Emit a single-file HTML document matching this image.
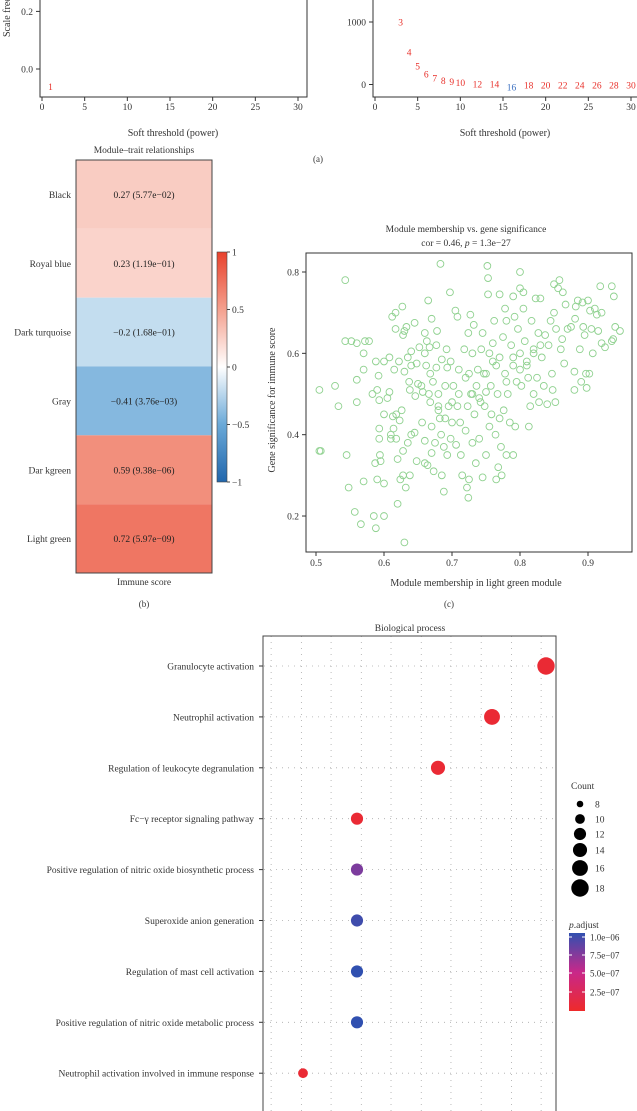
<!DOCTYPE html>
<html><head><meta charset="utf-8"><style>
html,body{margin:0;padding:0;background:#fff;}
svg{display:block;font-family:"Liberation Serif",serif;}
</style></head><body>
<svg id="fig" width="637" height="1111" viewBox="0 0 637 1111" xmlns="http://www.w3.org/2000/svg">
<defs>
<linearGradient id="cbar" x1="0" y1="1" x2="0" y2="0">
<stop offset="0" stop-color="#2166ac"/><stop offset="0.25" stop-color="#6aa9d8"/><stop offset="0.5" stop-color="#ffffff"/><stop offset="0.75" stop-color="#f4a08e"/><stop offset="1" stop-color="#e8412c"/>
</linearGradient>
<linearGradient id="pbar" x1="0" y1="1" x2="0" y2="0">
<stop offset="0" stop-color="#ee2a2a"/><stop offset="0.5" stop-color="#c8288a"/><stop offset="1" stop-color="#3050b0"/>
</linearGradient>
</defs>
<g id="panelA"></g>
<g id="panelB"></g>
<g id="panelC"></g>
<g id="panelD"></g>
</svg>
<script>
// ---- Panel A data ----
const powersLeft = [1];
const fitLeft = [-0.06];
const powersRight = [3,4,5,6,7,8,9,10,12,14,16,18,20,22,24,26,28,30];
const connRight = [1000,520,300,170,105,65,45,35,12,8,-40,-10,-10,-10,-10,-10,-10,-10];
const xTicksA = [0,5,10,15,20,25,30];
// ---- Panel B data ----
const modules = ["Black","Royal blue","Dark turquoise","Gray","Dar kgreen","Light green"];
const corrs = [0.27,0.23,-0.2,-0.41,0.59,0.72];
const pvals = ["5.77e\u221202","1.19e\u221201","1.68e\u221201","3.76e\u221203","9.38e\u221206","5.97e\u221209"];
const cbarTicks = [1,0.5,0,-0.5,-1];
// ---- Panel C data ----
const mmX = [0.505,0.505,0.507,0.528,0.533,0.543,0.543,0.545,0.548,0.552,0.557,0.56,0.56,0.56,0.566,0.57,0.57,0.57,0.572,0.578,0.583,0.585,0.587,0.588,0.588,0.59,0.59,0.592,0.593,0.593,0.593,0.594,0.595,0.6,0.6,0.6,0.6,0.605,0.608,0.608,0.61,0.61,0.612,0.613,0.614,0.615,0.617,0.617,0.618,0.618,0.62,0.62,0.622,0.623,0.624,0.626,0.627,0.628,0.628,0.628,0.63,0.63,0.63,0.632,0.633,0.635,0.635,0.637,0.638,0.638,0.64,0.64,0.64,0.645,0.645,0.646,0.648,0.648,0.65,0.652,0.655,0.656,0.657,0.66,0.66,0.66,0.662,0.663,0.664,0.665,0.666,0.667,0.668,0.668,0.67,0.67,0.67,0.672,0.673,0.675,0.677,0.677,0.678,0.68,0.68,0.682,0.683,0.684,0.685,0.685,0.688,0.688,0.69,0.69,0.692,0.693,0.693,0.695,0.697,0.698,0.698,0.7,0.702,0.705,0.706,0.708,0.708,0.71,0.712,0.713,0.715,0.718,0.72,0.722,0.723,0.724,0.724,0.725,0.725,0.727,0.728,0.73,0.73,0.732,0.733,0.735,0.736,0.738,0.74,0.742,0.743,0.745,0.745,0.747,0.748,0.75,0.75,0.752,0.753,0.753,0.755,0.755,0.757,0.758,0.76,0.762,0.764,0.765,0.765,0.767,0.768,0.77,0.77,0.77,0.772,0.773,0.775,0.776,0.778,0.778,0.78,0.78,0.782,0.785,0.787,0.79,0.79,0.79,0.792,0.793,0.795,0.797,0.8,0.8,0.8,0.802,0.805,0.805,0.807,0.81,0.812,0.813,0.815,0.817,0.82,0.82,0.823,0.825,0.827,0.828,0.83,0.832,0.835,0.837,0.84,0.842,0.845,0.847,0.848,0.85,0.85,0.852,0.853,0.856,0.858,0.86,0.862,0.863,0.865,0.867,0.87,0.875,0.88,0.88,0.881,0.882,0.885,0.888,0.89,0.892,0.893,0.895,0.897,0.898,0.9,0.902,0.903,0.905,0.907,0.91,0.913,0.915,0.918,0.92,0.92,0.925,0.935,0.935,0.937,0.938,0.94,0.947,0.71,0.72,0.74,0.76,0.78,0.8,0.82,0.7,0.73,0.75,0.79,0.81,0.83,0.68,0.66];
const gsY = [0.51,0.36,0.36,0.52,0.47,0.78,0.63,0.35,0.27,0.63,0.21,0.625,0.535,0.48,0.18,0.285,0.56,0.6,0.63,0.63,0.5,0.2,0.33,0.58,0.17,0.51,0.29,0.545,0.485,0.415,0.39,0.35,0.335,0.28,0.2,0.45,0.58,0.49,0.59,0.505,0.4,0.39,0.69,0.445,0.415,0.56,0.7,0.66,0.45,0.39,0.34,0.23,0.58,0.435,0.29,0.46,0.715,0.3,0.645,0.36,0.555,0.655,0.135,0.27,0.665,0.38,0.59,0.53,0.51,0.3,0.4,0.57,0.605,0.405,0.675,0.495,0.575,0.335,0.525,0.615,0.52,0.43,0.505,0.65,0.33,0.385,0.57,0.63,0.325,0.73,0.5,0.615,0.55,0.48,0.685,0.42,0.355,0.53,0.31,0.38,0.565,0.62,0.655,0.5,0.47,0.44,0.82,0.4,0.3,0.585,0.26,0.37,0.52,0.44,0.61,0.35,0.565,0.47,0.75,0.39,0.58,0.43,0.52,0.705,0.375,0.69,0.47,0.5,0.43,0.35,0.3,0.61,0.41,0.27,0.47,0.65,0.245,0.55,0.29,0.695,0.5,0.38,0.6,0.67,0.45,0.33,0.52,0.56,0.39,0.48,0.61,0.295,0.65,0.55,0.47,0.505,0.35,0.815,0.785,0.745,0.6,0.42,0.52,0.45,0.625,0.68,0.4,0.57,0.29,0.5,0.32,0.745,0.44,0.59,0.37,0.3,0.64,0.46,0.71,0.55,0.35,0.68,0.5,0.43,0.62,0.74,0.57,0.35,0.69,0.42,0.53,0.66,0.8,0.76,0.6,0.52,0.71,0.75,0.63,0.58,0.54,0.42,0.47,0.68,0.61,0.5,0.735,0.54,0.65,0.48,0.735,0.59,0.52,0.645,0.475,0.62,0.68,0.55,0.51,0.7,0.77,0.48,0.66,0.76,0.78,0.61,0.635,0.75,0.575,0.72,0.66,0.665,0.555,0.51,0.685,0.715,0.73,0.61,0.53,0.725,0.665,0.645,0.55,0.515,0.73,0.55,0.705,0.66,0.6,0.71,0.695,0.655,0.765,0.625,0.7,0.615,0.765,0.63,0.635,0.74,0.665,0.655,0.56,0.54,0.49,0.58,0.53,0.56,0.6,0.48,0.5,0.55,0.59,0.57,0.62,0.46,0.6];
const xTicksC = [0.5,0.6,0.7,0.8,0.9];
const yTicksC = [0.2,0.4,0.6,0.8];
// ---- Panel D data ----
const terms = ["Granulocyte activation","Neutrophil activation","Regulation of leukocyte degranulation","Fc\u2212\u03b3 receptor signaling pathway","Positive regulation of nitric oxide biosynthetic process","Superoxide anion generation","Regulation of mast cell activation","Positive regulation of nitric oxide metabolic process","Neutrophil activation involved in immune response"];
const geneRatio = [0.090,0.080,0.070,0.055,0.055,0.055,0.055,0.055,0.045];
const counts = [18,16,14,12,12,12,12,12,10];
const padj = [0.05,0.05,0.05,0.05,0.75,0.95,1.0,1.0,0.05];
const gridD = [0.0391,0.0447,0.0502,0.0558,0.0613,0.0669,0.0724,0.0780,0.0836,0.0891];
const legendCounts = [8,10,12,14,16,18];
const padjTicks = ["1.0e\u221206","7.5e\u221207","5.0e\u221207","2.5e\u221207"];

const NS = "http://www.w3.org/2000/svg";
function mk(parent, tag, attrs, text){
  const e = document.createElementNS(NS, tag);
  for (const k in attrs) e.setAttribute(k, attrs[k]);
  if (text !== undefined) e.textContent = text;
  parent.appendChild(e); return e;
}
const A = document.getElementById('panelA');
const B = document.getElementById('panelB');
const C = document.getElementById('panelC');
const D = document.getElementById('panelD');

// ===== Panel A =====
const axL = v => 42 + v*(298-42)/30;
const ayL = v => 69 - v*(69-11.4)/0.2;
const axR = v => 375 + v*(631-375)/30;
const ayR = v => 84.5 - v*(84.5-22)/1000;
let r;
r = mk(A,'rect',{x:40,y:-5,width:267,height:102,fill:'none',stroke:'#333','stroke-width':1});
 
r = mk(A,'rect',{x:373,y:-5,width:270,height:102,fill:'none',stroke:'#333','stroke-width':1});
 
[[axL,'left'],[axR,'right']].forEach(([fx,side])=>{
  xTicksA.forEach(t=>{
    mk(A,'line',{x1:fx(t),x2:fx(t),y1:97,y2:101,stroke:'#333'});
    const tl = mk(A,'text',{x:fx(t),y:110,'font-size':9.5,'text-anchor':'middle',fill:'#333'},t);
     
  });
  const xt = mk(A,'text',{x:side==='left'?173:505,y:136,'font-size':10,'text-anchor':'middle',fill:'#333'},'Soft threshold (power)');
   
});
[[0.2,'0.2'],[0.0,'0.0']].forEach(([v,s])=>{
  mk(A,'line',{x1:36,x2:40,y1:ayL(v),y2:ayL(v),stroke:'#333'});
  const t = mk(A,'text',{x:33,y:ayL(v)+3.5,'font-size':9.5,'text-anchor':'end',fill:'#333'},s);
   
});
[[1000,'1000'],[0,'0']].forEach(([v,s])=>{
  mk(A,'line',{x1:369,x2:373,y1:ayR(v),y2:ayR(v),stroke:'#333'});
  const t = mk(A,'text',{x:366,y:ayR(v)+3.5,'font-size':9.5,'text-anchor':'end',fill:'#333'},s);
   
});
r = mk(A,'text',{x:10,y:37,'font-size':10,fill:'#333',transform:'rotate(-90 10 37)'},'Scale free topology model fit');
 
powersLeft.forEach((p,i)=>{
  const t = mk(A,'text',{x:axL(p),y:ayL(fitLeft[i])+3.5,'font-size':9.5,'text-anchor':'middle',fill:'#e8302a'},p);
   
});
powersRight.forEach((p,i)=>{
  const t = mk(A,'text',{x:axR(p),y:ayR(connRight[i])+3.5,'font-size':9.5,'text-anchor':'middle',fill:p===16?'#3a6fc0':'#e8302a'},p);
   
});
r = mk(A,'text',{x:318,y:162,'font-size':9,'text-anchor':'middle',fill:'#333'},'(a)');
 

// ===== Panel B =====
function corrColor(v){
  const lerp=(a,b,t)=>Math.round(a+(b-a)*t);
  let c;
  if (v>=0){ const t=v; const w=[255,255,255], m=[244,160,142], e=[232,65,44];
    c = t<0.5 ? w.map((x,i)=>lerp(x,m[i],t/0.5)) : m.map((x,i)=>lerp(x,e[i],(t-0.5)/0.5));
  } else { const t=-v; const w=[255,255,255], m=[106,169,216], e=[33,102,172];
    c = t<0.5 ? w.map((x,i)=>lerp(x,m[i],t/0.5)) : m.map((x,i)=>lerp(x,e[i],(t-0.5)/0.5));
  }
  return 'rgb('+c.join(',')+')';
}
const hmTop=160, hmBot=573, hmL=76, hmR=212, rowH=(hmBot-hmTop)/modules.length;
r = mk(B,'text',{x:144,y:153,'font-size':9.5,'text-anchor':'middle',fill:'#333'},'Module\u2013trait relationships');
 
modules.forEach((m,i)=>{
  const y = hmTop + i*rowH;
  const c = mk(B,'rect',{x:hmL,y:y,width:hmR-hmL,height:rowH,fill:corrColor(corrs[i])});
   
  const t = mk(B,'text',{x:144,y:y+rowH/2+3.5,'font-size':9.5,'text-anchor':'middle',fill:'#222'},(corrs[i]<0?'\u2212'+Math.abs(corrs[i]):corrs[i])+' ('+pvals[i]+')');
   
  const l = mk(B,'text',{x:71,y:y+rowH/2+3.5,'font-size':9.5,'text-anchor':'end',fill:'#333'},m);
   
});
r = mk(B,'rect',{x:hmL,y:hmTop,width:hmR-hmL,height:hmBot-hmTop,fill:'none',stroke:'#444'});
 
const cbT=252, cbB=482;
const cbY = v => cbB - (v+1)/2*(cbB-cbT);
r = mk(B,'rect',{x:217,y:cbT,width:10,height:cbB-cbT,fill:'url(#cbar)',stroke:'#444','stroke-width':0.6});
 
cbarTicks.forEach(v=>{
  mk(B,'line',{x1:227,x2:230,y1:cbY(v),y2:cbY(v),stroke:'#444'});
  const t = mk(B,'text',{x:232,y:cbY(v)+3.5,'font-size':9.5,fill:'#333'},v<0?'\u2212'+Math.abs(v):v);
   
});
r = mk(B,'text',{x:144,y:585,'font-size':9.5,'text-anchor':'middle',fill:'#333'},'Immune score');
 
r = mk(B,'text',{x:144,y:607,'font-size':9,'text-anchor':'middle',fill:'#333'},'(b)');
 

// ===== Panel C =====
const cx = v => 316 + (v-0.5)*680;
const cy = v => 272 - (v-0.8)*406.7;
r = mk(C,'text',{x:466,y:232,'font-size':9.5,'text-anchor':'middle',fill:'#333'},'Module membership vs. gene significance');
 
r = mk(C,'text',{x:466,y:246,'font-size':9.5,'text-anchor':'middle',fill:'#333'});
 
mk(r,'tspan',{},'cor = 0.46, ');
mk(r,'tspan',{'font-style':'italic'},'p');
mk(r,'tspan',{},' = 1.3e\u221227');
r = mk(C,'rect',{x:306,y:253,width:326,height:299,fill:'none',stroke:'#333'});
 
xTicksC.forEach(v=>{
  mk(C,'line',{x1:cx(v),x2:cx(v),y1:552,y2:556,stroke:'#333'});
  const t = mk(C,'text',{x:cx(v),y:566,'font-size':9.5,'text-anchor':'middle',fill:'#333'},v.toFixed(1));
   
});
yTicksC.forEach(v=>{
  mk(C,'line',{x1:302,x2:306,y1:cy(v),y2:cy(v),stroke:'#333'});
  const t = mk(C,'text',{x:299,y:cy(v)+3.5,'font-size':9.5,'text-anchor':'end',fill:'#333'},v.toFixed(1));
   
});
r = mk(C,'text',{x:476,y:586,'font-size':10,'text-anchor':'middle',fill:'#333'},'Module membership in light green module');
 
r = mk(C,'text',{x:275,y:400,'font-size':10,'text-anchor':'middle',fill:'#333',transform:'rotate(-90 275 400)'},'Gene significance for immune score');
 
mmX.forEach((x,i)=>{
  const p = mk(C,'circle',{cx:cx(x),cy:cy(gsY[i]),r:3.4,fill:'none',stroke:'#8fd18f','stroke-width':0.9});
   
});
r = mk(C,'text',{x:449,y:607,'font-size':9,'text-anchor':'middle',fill:'#333'},'(c)');
 

// ===== Panel D =====
const dx = g => 303 + (g-0.045)*5400;
const dy = i => 666 + i*50.9;
const rad = c => Math.sqrt(Math.max(6.48*c - 40.9, 4));
function pColor(t){
  const s=[[238,42,42],[200,40,138],[48,80,176]];
  let c; if(t<0.5){c=s[0].map((x,i)=>Math.round(x+(s[1][i]-x)*t/0.5));}else{c=s[1].map((x,i)=>Math.round(x+(s[2][i]-x)*(t-0.5)/0.5));}
  return 'rgb('+c.join(',')+')';
}
r = mk(D,'text',{x:410,y:631,'font-size':9.5,'text-anchor':'middle',fill:'#333'},'Biological process');
 
gridD.forEach(g=>{
  const l = mk(D,'line',{x1:dx(g),x2:dx(g),y1:636,y2:1111,stroke:'#aaa','stroke-width':0.8,'stroke-dasharray':'1 5'});
   
});
terms.forEach((t,i)=>{
  const l = mk(D,'line',{x1:264,x2:556,y1:dy(i),y2:dy(i),stroke:'#aaa','stroke-width':0.8,'stroke-dasharray':'1 5'});
   
  mk(D,'line',{x1:259,x2:263,y1:dy(i),y2:dy(i),stroke:'#333'});
  const lab = mk(D,'text',{x:254,y:dy(i)+3.5,'font-size':9.5,'text-anchor':'end',fill:'#333'},t);
   
});
r = mk(D,'rect',{x:263,y:636,width:293,height:490,fill:'none',stroke:'#444'});
 
terms.forEach((t,i)=>{
  const c = mk(D,'circle',{cx:dx(geneRatio[i]),cy:dy(i),r:rad(counts[i]),fill:pColor(padj[i])});
   
});
r = mk(D,'text',{x:571,y:789,'font-size':9.5,fill:'#333'},'Count');
 
const legY=[804,819,834,850,868,888];
legendCounts.forEach((c,i)=>{
  const d = mk(D,'circle',{cx:580,cy:legY[i],r:rad(c),fill:'#000'});
   
  const t = mk(D,'text',{x:595,y:legY[i]+3.5,'font-size':9.5,fill:'#333'},c);
   
});
r = mk(D,'text',{x:569,y:928,'font-size':9.5,fill:'#333'});
mk(r,'tspan',{'font-style':'italic'},'p');
mk(r,'tspan',{},'.adjust');
 
r = mk(D,'rect',{x:569,y:933,width:16,height:78,fill:'url(#pbar)'});
 
const pY=[937,955,973,992];
padjTicks.forEach((s,i)=>{
  mk(D,'line',{x1:569,x2:572,y1:pY[i],y2:pY[i],stroke:'#fff'});
  mk(D,'line',{x1:582,x2:585,y1:pY[i],y2:pY[i],stroke:'#fff'});
  const t = mk(D,'text',{x:590,y:pY[i]+3.5,'font-size':9,fill:'#333'},s);
   
});
</script>
</body></html>
